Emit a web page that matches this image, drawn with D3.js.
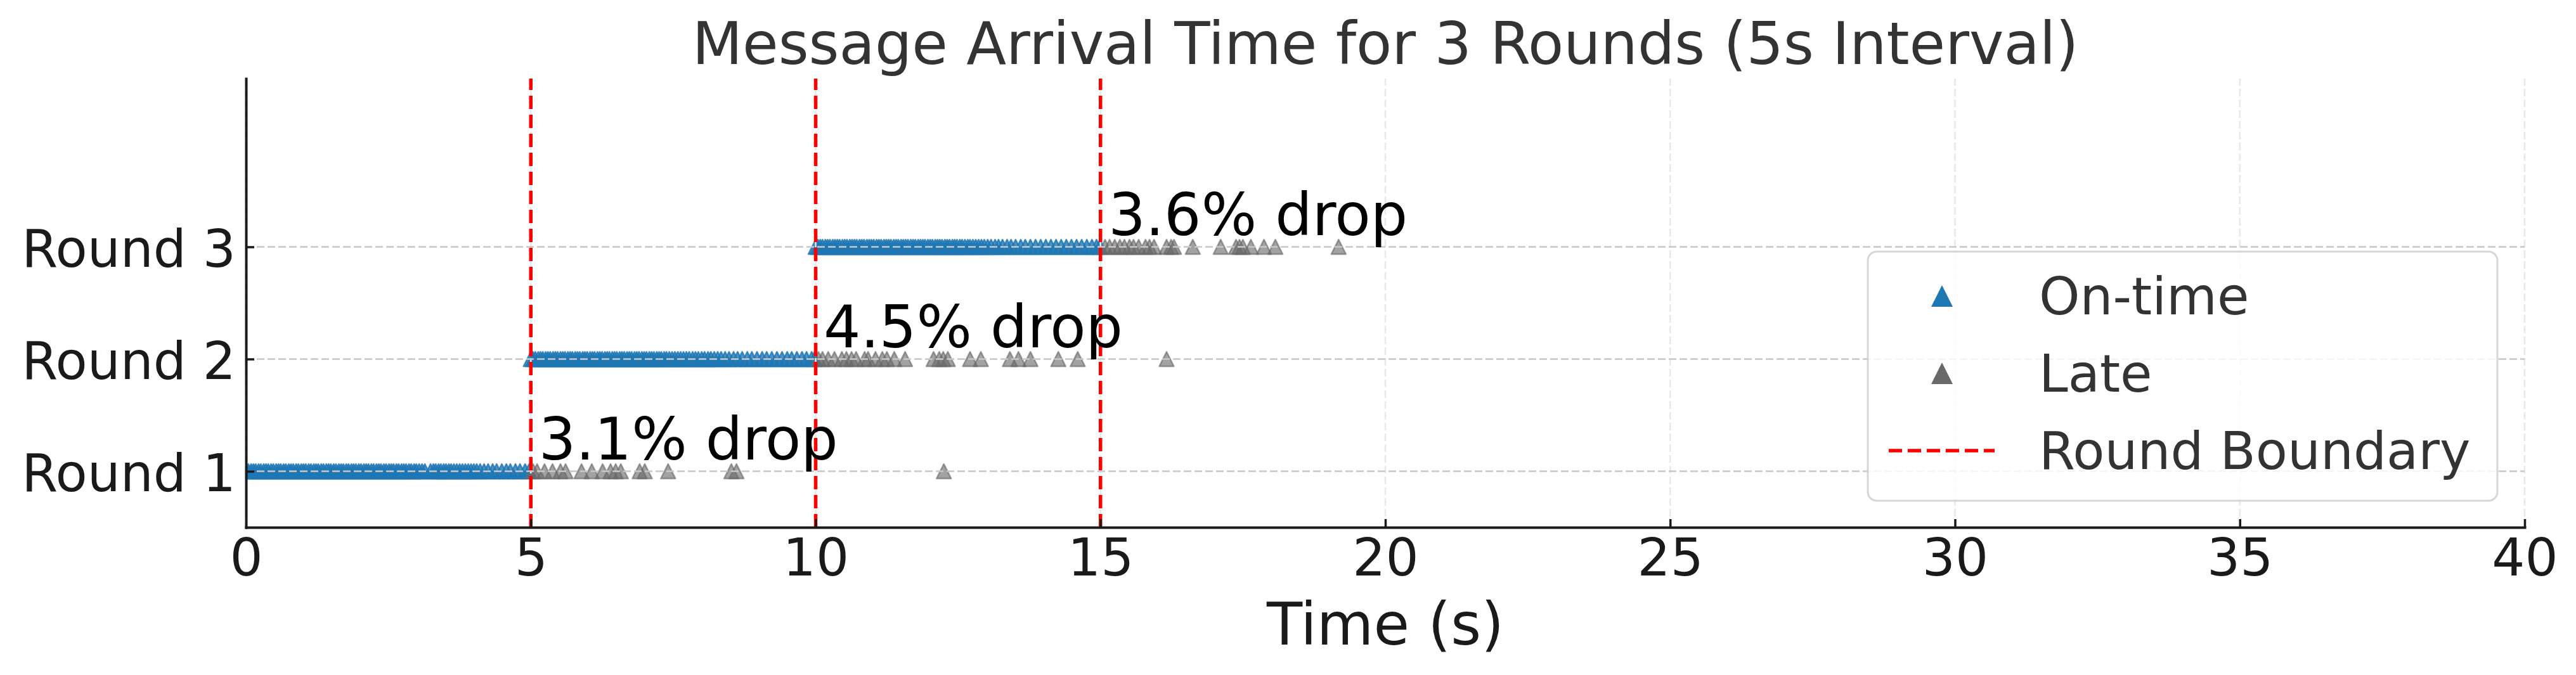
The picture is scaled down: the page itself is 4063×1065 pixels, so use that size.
<!DOCTYPE html>
<html>
<head>
<meta charset="utf-8">
<script src="https://cdn.jsdelivr.net/npm/d3@7"></script>
<style>
  body { margin: 0; background: #fff; }
  text { font-family: "DejaVu Sans", sans-serif; }
</style>
</head>
<body>
<script>
// Rounds and labels
const rounds = [1, 2, 3];
const roundLabels = ['Round 1', 'Round 2', 'Round 3'];
const boundaries = [5, 10, 15];
const dropLabels = ['3.1% drop', '4.5% drop', '3.6% drop'];
const xTicks = [0, 5, 10, 15, 20, 25, 30, 35, 40];

// On-time arrivals (s)
const onTime1 = [0.00, 0.04, 0.09, 0.13, 0.17, 0.22, 0.26, 0.31, 0.35, 0.39, 0.44, 0.48, 0.53, 0.57, 0.61, 0.66,
  0.70, 0.75, 0.79, 0.83, 0.88, 0.92, 0.97, 1.01, 1.05, 1.10, 1.14, 1.19, 1.23, 1.27, 1.32, 1.36, 1.41, 1.45,
  1.49, 1.54, 1.58, 1.63, 1.67, 1.71, 1.76, 1.80, 1.85, 1.89, 1.93, 1.98, 2.02, 2.07, 2.11, 2.15, 2.20, 2.24,
  2.29, 2.33, 2.37, 2.42, 2.46, 2.51, 2.55, 2.59, 2.64, 2.68, 2.73, 2.77, 2.81, 2.86, 2.90, 2.95, 2.99, 3.04,
  3.09, 3.14, 3.24, 3.29, 3.33, 3.38, 3.42, 3.47, 3.51, 3.56, 3.60, 3.65, 3.70, 3.75, 3.80, 3.85, 3.90, 3.95,
  4.00, 4.05, 4.11, 4.18, 4.25, 4.33, 4.40, 4.49, 4.57, 4.64, 4.73, 4.81, 4.90, 4.97];
const onTime2 = [5.00, 5.04, 5.08, 5.13, 5.17, 5.21, 5.26, 5.30, 5.34, 5.39, 5.43, 5.47, 5.52, 5.56, 5.60, 5.65,
  5.69, 5.73, 5.78, 5.82, 5.86, 5.91, 5.95, 5.99, 6.04, 6.08, 6.12, 6.17, 6.21, 6.25, 6.30, 6.34, 6.38, 6.43,
  6.47, 6.51, 6.56, 6.60, 6.64, 6.69, 6.73, 6.77, 6.82, 6.86, 6.90, 6.95, 6.99, 7.03, 7.08, 7.12, 7.16, 7.21,
  7.25, 7.29, 7.34, 7.38, 7.43, 7.48, 7.53, 7.58, 7.63, 7.68, 7.73, 7.78, 7.84, 7.89, 7.94, 8.00, 8.05, 8.11,
  8.16, 8.22, 8.28, 8.34, 8.41, 8.48, 8.56, 8.63, 8.71, 8.80, 8.88, 8.97, 9.06, 9.14, 9.23, 9.32, 9.41, 9.50,
  9.58, 9.67, 9.76, 9.84, 9.93, 9.98];
const onTime3 = [10.00, 10.04, 10.08, 10.12, 10.17, 10.21, 10.25, 10.30, 10.34, 10.38, 10.42, 10.47, 10.51, 10.55,
  10.60, 10.64, 10.68, 10.72, 10.77, 10.81, 10.85, 10.90, 10.94, 10.98, 11.02, 11.07, 11.11, 11.15, 11.20, 11.24,
  11.28, 11.32, 11.37, 11.41, 11.45, 11.50, 11.54, 11.58, 11.62, 11.67, 11.71, 11.75, 11.80, 11.84, 11.88, 11.92,
  11.97, 12.01, 12.05, 12.10, 12.14, 12.18, 12.22, 12.27, 12.31, 12.35, 12.40, 12.44, 12.48, 12.53, 12.57, 12.62,
  12.67, 12.71, 12.76, 12.81, 12.86, 12.91, 12.96, 13.02, 13.08, 13.15, 13.21, 13.28, 13.36, 13.43, 13.51, 13.60,
  13.68, 13.77, 13.86, 13.95, 14.04, 14.13, 14.22, 14.31, 14.40, 14.49, 14.58, 14.67, 14.76, 14.85, 14.93, 14.99];

// Late arrivals (s)
const late1 = [5.04, 5.11, 5.24, 5.38, 5.52, 5.61, 5.89, 6.07, 6.26, 6.40, 6.49, 6.58, 6.91, 7.00, 7.41, 8.52, 8.61, 12.25];
const late2 = [10.05, 10.12, 10.22, 10.33, 10.46, 10.54, 10.63, 10.71, 10.86, 10.92, 11.05, 11.17, 11.25, 11.38,
  11.57, 12.07, 12.17, 12.24, 12.32, 12.71, 12.90, 13.41, 13.56, 13.77, 14.26, 14.60, 16.16];
const late3 = [15.08, 15.16, 15.25, 15.34, 15.42, 15.51, 15.58, 15.67, 15.79, 15.86, 15.94, 16.16, 16.24, 16.29,
  16.62, 17.11, 17.38, 17.44, 17.50, 17.64, 17.87, 18.07, 19.18];

const onTimeByRound = [onTime1, onTime2, onTime3];
const lateByRound = [late1, late2, late3];

// Dimensions
const width = 4063;
const height = 1065;
const margin = { top: 124, right: 81, bottom: 233, left: 388 };
const innerBottom = height - margin.bottom;
const innerRight = width - margin.right;

const blue = '#1f77b4';
const grey = '#696969';

const svg = d3.select('body')
  .append('svg')
  .attr('width', width)
  .attr('height', height);

const xScale = d3.scaleLinear().domain([0, 40]).range([margin.left, innerRight]);
const yScale = d3.scaleLinear().domain([0.5, 4.5]).range([innerBottom, margin.top]);

svg.append('clipPath')
  .attr('id', 'plot-clip')
  .append('rect')
  .attr('x', margin.left)
  .attr('y', margin.top)
  .attr('width', innerRight - margin.left)
  .attr('height', innerBottom - margin.top);

// matplotlib style '^' marker
const tri = h => `M0,${-h}L${h},${h}L${-h},${h}Z`;

// Scatter points
const points = [];
rounds.forEach((r, i) => {
  onTimeByRound[i].forEach(t => points.push({ t, r, late: false }));
});
rounds.forEach((r, i) => {
  lateByRound[i].forEach(t => points.push({ t, r, late: true }));
});

svg.append('g')
  .attr('clip-path', 'url(#plot-clip)')
  .selectAll('path')
  .data(points)
  .enter()
  .append('path')
  .attr('d', tri(11.5))
  .attr('transform', d => `translate(${xScale(d.t)},${yScale(d.r)})`)
  .attr('fill', d => d.late ? grey : blue)
  .attr('fill-opacity', d => d.late ? 0.62 : 0.8)
  .attr('stroke', d => d.late ? grey : blue)
  .attr('stroke-opacity', d => d.late ? 0.62 : 0.8)
  .attr('stroke-width', 2.5)
  .attr('stroke-linejoin', 'round');

// Grid lines (drawn above the markers, as in the original)
svg.append('g')
  .selectAll('line')
  .data(xTicks)
  .enter()
  .append('line')
  .attr('x1', d => xScale(d))
  .attr('x2', d => xScale(d))
  .attr('y1', innerBottom)
  .attr('y2', margin.top)
  .attr('stroke', '#e8e8e8')
  .attr('stroke-width', 2.5)
  .attr('stroke-dasharray', '12,5');

svg.append('g')
  .selectAll('line')
  .data(rounds)
  .enter()
  .append('line')
  .attr('x1', margin.left)
  .attr('x2', innerRight)
  .attr('y1', d => yScale(d))
  .attr('y2', d => yScale(d))
  .attr('stroke', '#c8c8c8')
  .attr('stroke-width', 2.5)
  .attr('stroke-dasharray', '12,5');

// Round boundaries
svg.append('g')
  .selectAll('line')
  .data(boundaries)
  .enter()
  .append('line')
  .attr('x1', d => xScale(d))
  .attr('x2', d => xScale(d))
  .attr('y1', innerBottom)
  .attr('y2', margin.top)
  .attr('stroke', 'red')
  .attr('stroke-width', 5.5)
  .attr('stroke-dasharray', '21,9');

// Drop annotations
svg.append('g')
  .selectAll('text')
  .data(rounds)
  .enter()
  .append('text')
  .attr('x', (d, i) => xScale(boundaries[i] + 0.14))
  .attr('y', d => yScale(d + 0.105))
  .attr('font-size', 92)
  .attr('fill', '#000')
  .text((d, i) => dropLabels[i]);

// Axes
const xAxis = d3.axisBottom(xScale)
  .tickValues(xTicks)
  .tickSizeInner(-13)
  .tickSizeOuter(0)
  .tickPadding(18);

const yAxis = d3.axisLeft(yScale)
  .tickValues(rounds)
  .tickFormat((d, i) => roundLabels[i])
  .tickSizeInner(-13)
  .tickSizeOuter(0)
  .tickPadding(16);

const gx = svg.append('g')
  .attr('transform', `translate(0, ${innerBottom})`)
  .call(xAxis);

const gy = svg.append('g')
  .attr('transform', `translate(${margin.left}, 0)`)
  .call(yAxis);

[gx, gy].forEach(g => {
  g.select('.domain')
    .attr('stroke', '#1a1a1a')
    .attr('stroke-width', 4)
    .attr('stroke-linecap', 'square');
  g.selectAll('.tick line')
    .attr('stroke', '#1a1a1a')
    .attr('stroke-width', 3.5);
  g.selectAll('.tick text')
    .attr('font-family', '"DejaVu Sans", sans-serif')
    .attr('font-size', 82)
    .attr('fill', '#1a1a1a');
});
gx.select('.tick line').remove();
gy.selectAll('.tick text').attr('dy', '0.38em');

// Title and axis label
svg.append('text')
  .attr('x', (margin.left + innerRight) / 2)
  .attr('y', 101)
  .attr('text-anchor', 'middle')
  .attr('font-size', 92)
  .attr('fill', '#333')
  .text('Message Arrival Time for 3 Rounds (5s Interval)');

svg.append('text')
  .attr('x', (margin.left + innerRight) / 2)
  .attr('y', 1017)
  .attr('text-anchor', 'middle')
  .attr('font-size', 92)
  .attr('fill', '#1a1a1a')
  .text('Time (s)');

// Legend
const legend = svg.append('g').attr('transform', 'translate(2946, 397)');

legend.append('rect')
  .attr('width', 993)
  .attr('height', 393)
  .attr('rx', 14)
  .attr('fill', '#fff')
  .attr('fill-opacity', 0.8)
  .attr('stroke', '#cccccc')
  .attr('stroke-opacity', 0.8)
  .attr('stroke-width', 3);

const legendItems = [
  { label: 'On-time', type: 'marker', color: blue },
  { label: 'Late', type: 'marker', color: grey },
  { label: 'Round Boundary', type: 'line', color: 'red' }
];

const item = legend.selectAll('.item')
  .data(legendItems)
  .enter()
  .append('g')
  .attr('class', 'item')
  .attr('transform', (d, i) => `translate(0, ${70 + i * 122})`);

item.filter(d => d.type === 'marker')
  .append('path')
  .attr('d', tri(17))
  .attr('transform', 'translate(117, 0)')
  .attr('fill', d => d.color);

item.filter(d => d.type === 'line')
  .append('line')
  .attr('x1', 33)
  .attr('x2', 200)
  .attr('stroke', d => d.color)
  .attr('stroke-width', 5.5)
  .attr('stroke-dasharray', '21,9');

item.append('text')
  .attr('x', 270)
  .attr('y', 29)
  .attr('font-size', 82)
  .attr('fill', '#333')
  .text(d => d.label);
</script>
</body>
</html>
